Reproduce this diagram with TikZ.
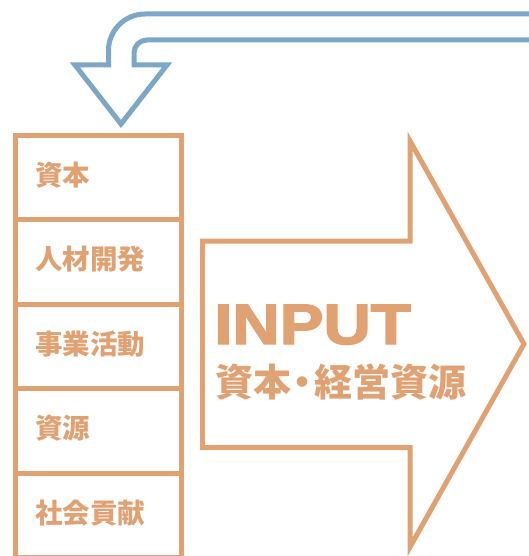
\documentclass[tikz,border=0pt]{standalone}
\usepackage{fontspec}
\newfontfamily\jp{Noto Sans CJK JP}
\newfontfamily\inputfont{Liberation Sans}[BoldFeatures={FakeBold=2.5}]
\definecolor{orng}{HTML}{E0A173}
\definecolor{blu}{HTML}{7DA7C6}
\tikzset{
  row/.style={draw=orng, line width=5pt, minimum width=166pt, minimum height=84.5pt, inner sep=0pt, anchor=north west},
  rowlabel/.style={text=orng, font=\jp\bfseries\fontsize{27.5}{27.5}\selectfont, anchor=west, inner sep=0pt},
}
\begin{document}
\begin{tikzpicture}[x=1pt,y=-1pt]
\useasboundingbox (0,0) rectangle (529,556);
\clip (0,0) rectangle (529,556);
% blue return arrow
\draw[blu, line width=5pt, line join=miter]
  (540,14) -- (145,14) .. controls (124.8,14) and (108.5,30.3) .. (108.5,50.5)
  -- (108.5,65) -- (75,65) -- (121,124) -- (167,65) -- (134,65) -- (134,53)
  .. controls (134,45.8) and (139.8,40) .. (147,40) -- (540,40);
% rows
\node[row] (r1) at (13,132.7) {};
\node[row] (r2) at (13,217.2) {};
\node[row] (r3) at (13,301.7) {};
\node[row] (r4) at (13,386.2) {};
\node[row] (r5) at (13,470.7) {};
\node[rowlabel] (t1) at (35,175) {資本};
\node[rowlabel] (t2) at (35,259.5) {人材開発};
\node[rowlabel] (t3) at (35,344) {事業活動};
\node[rowlabel] (t4) at (35,428.5) {資源};
\node[rowlabel] (t5) at (35,513) {社会貢献};
% big arrow
\draw[orng, line width=5pt, line join=miter]
  (202.5,241) -- (410,241) -- (410,141) -- (524,344) -- (410,547) -- (410,447.5) -- (202.5,447.5) -- cycle;
\node[text=orng, anchor=base west, inner sep=0pt] (inp) at (214,344)
  {\scalebox{1.15}[1]{\inputfont\bfseries\fontsize{57}{57}\selectfont INPUT}};
\node[text=orng, anchor=west, inner sep=0pt, font=\jp\bfseries\fontsize{38}{38}\selectfont] (sub) at (215,382)
  {資本\hspace{-0.2em}・\hspace{-0.2em}経営資源};
\end{tikzpicture}
\end{document}
